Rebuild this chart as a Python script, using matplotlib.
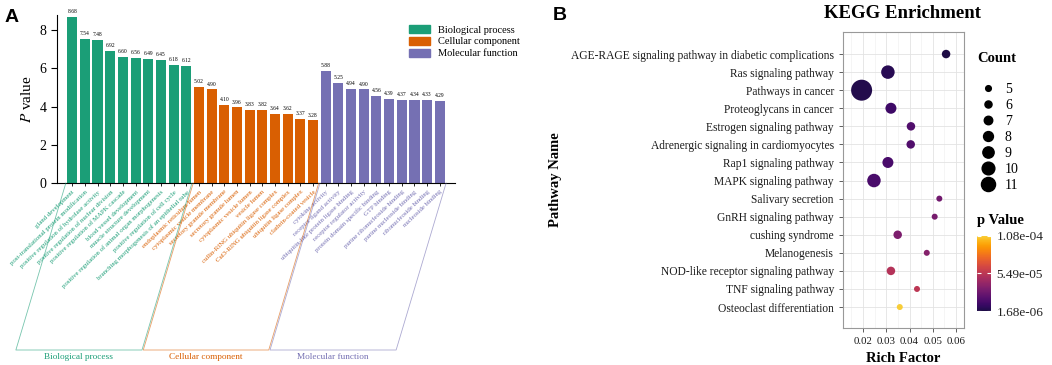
import numpy as np
import matplotlib.pyplot as plt
from matplotlib.colors import LinearSegmentedColormap, Normalize
from matplotlib.cm import ScalarMappable
from matplotlib.lines import Line2D
from matplotlib.patches import Patch

plt.rcParams['font.family'] = ['Liberation Serif', 'DejaVu Serif']
plt.rcParams['mathtext.fontset'] = 'stix'

# ---- GO data (panel A)
bp_terms = ['gland development', 'post-translational protein modification',
            'positive regulation of hydrolase activity', 'positive regulation of nuclear division',
            'positive regulation of MAPK cascade', 'blood vessel development',
            'muscle structure development', 'positive regulation of animal organ morphogenesis',
            'positive regulation of cell cycle', 'branching morphogenesis of an epithelial tube']
bp_vals = [8.68, 7.54, 7.48, 6.92, 6.60, 6.56, 6.49, 6.45, 6.18, 6.12]

cc_terms = ['endoplasmic reticulum lumen', 'cytoplasmic vesicle membrane',
            'secretory granule membrane', 'secretory granule lumen',
            'cytoplasmic vesicle lumen', 'vesicle lumen',
            'cullin-RING ubiquitin ligase complex', 'Cul3-RING ubiquitin ligase complex',
            'ubiquitin ligase complex', 'clathrin-coated vesicle']
cc_vals = [5.02, 4.90, 4.10, 3.96, 3.83, 3.82, 3.64, 3.62, 3.37, 3.28]

mf_terms = ['cytokine activity', 'receptor ligand activity',
            'ubiquitin-like protein ligase binding', 'receptor regulator activity',
            'protein domain specific binding', 'GTP binding',
            'purine ribonucleoside binding', 'purine nucleoside binding',
            'ribonucleoside binding', 'nucleoside binding']
mf_vals = [5.88, 5.25, 4.94, 4.90, 4.56, 4.39, 4.37, 4.34, 4.33, 4.29]

groups = ['Biological process', 'Cellular component', 'Molecular function']
group_colors = ['#1b9e77', '#d95f02', '#7570b3']

# ---- KEGG data (panel B)
kegg_terms = ['AGE-RAGE signaling pathway in diabetic complications', 'Ras signaling pathway',
              'Pathways in cancer', 'Proteoglycans in cancer', 'Estrogen signaling pathway',
              'Adrenergic signaling in cardiomyocytes', 'Rap1 signaling pathway',
              'MAPK signaling pathway', 'Salivary secretion', 'GnRH signaling pathway',
              'cushing syndrome', 'Melanogenesis', 'NOD-like receptor signaling pathway',
              'TNF signaling pathway', 'Osteoclast differentiation']
rich_factor = [0.0557, 0.0307, 0.0194, 0.0320, 0.0406, 0.0405, 0.0307, 0.0247,
               0.0528, 0.0508, 0.0349, 0.0474, 0.0320, 0.0432, 0.0358]
gene_count = [6, 8, 11, 7, 6, 6, 7, 8, 5, 5, 6, 5, 6, 5, 5]
p_values = [1.68e-6, 5e-6, 3e-6, 1.2e-5, 1.8e-5, 1.8e-5, 1.5e-5, 1.6e-5,
            2.9e-5, 3.1e-5, 3.3e-5, 3.6e-5, 5.2e-5, 5.5e-5, 1.08e-4]
p_ticks = [1.68e-6, 5.49e-5, 1.08e-4]
count_levels = [5, 6, 7, 8, 9, 10, 11]

W, H = 1052, 365
fig = plt.figure(figsize=(W / 100, H / 100), dpi=100)


def box(l, t, r, b):
    return [l / W, 1 - b / H, (r - l) / W, (b - t) / H]


# ================= panel A =================
ax = fig.add_axes(box(57, 15, 455, 183))
terms = bp_terms + cc_terms + mf_terms
vals = bp_vals + cc_vals + mf_vals
cols = [group_colors[0]] * len(bp_vals) + [group_colors[1]] * len(cc_vals) + [group_colors[2]] * len(mf_vals)
x = np.arange(len(vals))
ax.bar(x, vals, width=0.8, color=cols)
for i, v in zip(x, vals):
    ax.text(i, v + 0.15, '%.2f' % v, ha='center', va='bottom', fontsize=4)

ax.set_xlim(-1.2, 30.2)
ax.set_ylim(0, 8.8)
ax.set_yticks([0, 2, 4, 6, 8])
ax.tick_params(axis='y', labelsize=10, length=4, width=0.8)
ax.set_xticks(x)
ax.set_xticklabels(terms, rotation=44, ha='right', rotation_mode='anchor', fontsize=4.9)
for lab, c in zip(ax.get_xticklabels(), cols):
    lab.set_color(c)
ax.tick_params(axis='x', length=2.5, width=0.6, pad=2)
for s in ['top', 'right']:
    ax.spines[s].set_visible(False)
ax.set_ylabel('$P$ value', fontsize=11)

handles = [Patch(color=c) for c in group_colors]
fig.legend(handles, groups, loc='upper left', bbox_to_anchor=(404 / W, 1 - 20 / H),
           frameon=False, fontsize=7.5, handlelength=2.0, handleheight=0.8,
           labelspacing=0.2, borderpad=0, handletextpad=0.8)

# brackets under each GO group
edges = [(-0.5, 9.45), (9.55, 19.45), (19.55, 29.5)]
y_top, y_bot = H - 183, H - 350
for (a, b), name, c in zip(edges, groups, group_colors):
    xa = ax.transData.transform((a, 0))[0]
    xb = ax.transData.transform((b, 0))[0]
    fig.add_artist(Line2D([xa / W, (xa - 50) / W, (xb - 50) / W, xb / W],
                          [y_top / H, y_bot / H, y_bot / H, y_top / H],
                          transform=fig.transFigure, color=c, lw=0.6, alpha=0.6))
    fig.text((xa + xb - 100) / 2 / W, 1 - 357 / H, name, color=c, fontsize=6.7,
             ha='center', va='center')

# ================= panel B =================
cmap = LinearSegmentedColormap.from_list('pv', plt.get_cmap('inferno')(np.linspace(0.12, 0.88, 256)))
norm = Normalize(vmin=min(p_ticks), vmax=max(p_ticks))

ax2 = fig.add_axes(box(843, 32, 964, 328))
yy = np.arange(len(kegg_terms))
dia = (6 + 2.5 * (np.array(gene_count) - 5)) * 0.72
ax2.scatter(rich_factor, yy, s=dia ** 2, c=p_values, cmap=cmap, norm=norm,
            edgecolors='none', zorder=3)
ax2.set_xlim(0.0114, 0.0634)
ax2.set_ylim(len(kegg_terms) - 1 + 1.16, -1.22)
ax2.set_yticks(yy)
ax2.set_yticklabels(kegg_terms, fontsize=8.3)
ax2.set_xticks([0.02, 0.03, 0.04, 0.05, 0.06])
ax2.set_xticklabels(['0.02', '0.03', '0.04', '0.05', '0.06'], fontsize=7.8)
ax2.set_xticks([0.015, 0.025, 0.035, 0.045, 0.055], minor=True)
ax2.grid(which='major', color='#e3e3e3', lw=0.6)
ax2.grid(which='minor', axis='x', color='#eeeeee', lw=0.4)
ax2.set_axisbelow(True)
ax2.tick_params(which='major', length=3, width=0.6, color='#444444', labelcolor='#1a1a1a')
ax2.tick_params(which='minor', length=0)
for s in ax2.spines.values():
    s.set_color('#999999')
    s.set_linewidth(0.8)

fig.text(903 / W, 1 - 14 / H, 'KEGG Enrichment', fontsize=13.5, fontweight='bold',
         ha='center', va='center')
fig.text(903 / W, 1 - 359 / H, 'Rich Factor', fontsize=10.5, fontweight='bold',
         ha='center', va='center')
fig.text(555 / W, 1 - 180 / H, 'Pathway Name', fontsize=10.5, fontweight='bold',
         ha='center', va='center', rotation=90)

# Count legend
fig.text(977 / W, 1 - 58 / H, 'Count', fontsize=10.5, fontweight='bold', ha='left', va='center')
h2 = [Line2D([], [], ls='none', marker='o', color='black',
             markersize=(5.7 + 1.4 * (c - 5)) * 0.72) for c in count_levels]
fig.legend(h2, [str(c) for c in count_levels], loc='upper left',
           bbox_to_anchor=(973 / W, 1 - 76 / H), frameon=False, fontsize=10,
           handlelength=1.2, handletextpad=0.6, labelspacing=0.22, borderpad=0)

# p value colorbar
fig.text(977 / W, 1 - 221 / H, 'p Value', fontsize=10.5, fontweight='bold', ha='left', va='center')
cax = fig.add_axes(box(977, 236, 991, 311))
cb = fig.colorbar(ScalarMappable(norm=norm, cmap=cmap), cax=cax)
cb.outline.set_visible(False)
cb.set_ticks(p_ticks)
cb.set_ticklabels(['1.68e-06', '5.49e-05', '1.08e-04'])
cax.tick_params(axis='y', direction='in', length=3, width=0.8, color='white',
                labelsize=9.5, labelcolor='#222222', left=True, pad=4)

# panel letters
fig.text(12 / W, 1 - 18 / H, 'A', fontsize=14, fontweight='bold', family='Liberation Sans',
         ha='center', va='center')
fig.text(560 / W, 1 - 16 / H, 'B', fontsize=14, fontweight='bold', family='Liberation Sans',
         ha='center', va='center')

fig.savefig('out.png', dpi=100)
